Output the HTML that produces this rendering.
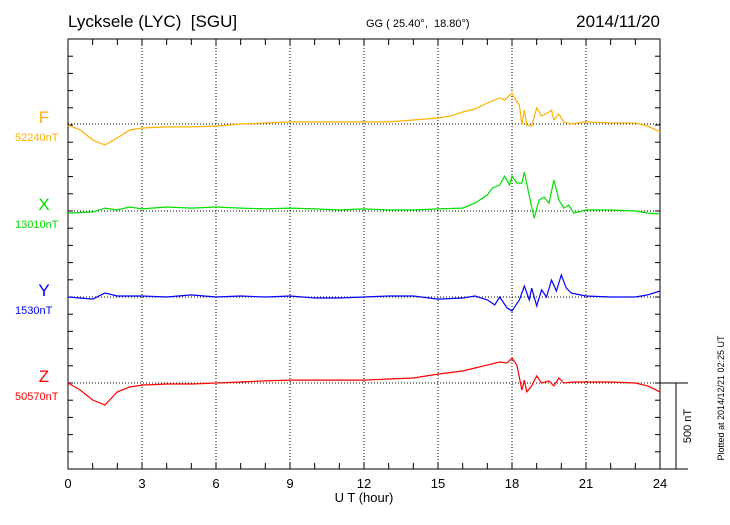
<!DOCTYPE html>
<html><head><meta charset="utf-8"><style>
body{margin:0;background:#fff}
svg text{font-family:"Liberation Sans",sans-serif;white-space:pre}
</style></head><body>
<svg id="c" width="730" height="520" xmlns="http://www.w3.org/2000/svg">
<text x="68" y="27" font-size="17">Lycksele (LYC)  [SGU]</text>
<text x="366" y="27" font-size="11">GG ( 25.40°,  18.80°)</text>
<text x="660" y="27" font-size="17" text-anchor="end">2014/11/20</text>
<text x="364" y="502" font-size="13" text-anchor="middle">U T (hour)</text>
<text transform="translate(724,398) rotate(-90)" font-size="9" text-anchor="middle">Plotted at 2014/12/21 02:25 UT</text>
<text transform="translate(691,426) rotate(-90)" font-size="11" text-anchor="middle">500 nT</text>
</svg>
<script>
const hoursF=[0,0.5,1,1.5,2,2.5,3,4,5,6,7,8,9,10,11,12,13,14,15,15.5,16,16.5,17,17.5,17.7,18,18.1,18.3,18.4,18.5,18.6,18.8,19,19.2,19.5,19.6,19.7,19.9,20.1,20.4,21,22,23,23.5,24];
const valuesF=[-6,-35,-93,-122,-81,-35,-23,-17,-17,-12,0,6,12,12,12,12,12,23,35,46,70,87,122,151,139,180,151,110,-6,81,-6,-12,93,46,70,81,23,58,12,0,12,6,6,-12,-46];
const hoursX=[0,1,1.5,2,2.5,3,4,5,6,7,8,9,10,11,12,13,14,15,16,16.5,17,17.2,17.5,17.7,17.9,18,18.2,18.4,18.5,18.7,18.9,19.1,19.3,19.5,19.7,19.9,20.1,20.3,20.5,21,22,23,23.5,24];
const valuesX=[-12,-6,17,6,23,12,23,17,23,17,12,17,12,6,12,6,6,12,17,46,93,133,151,203,151,203,162,162,226,87,-41,64,81,46,180,64,17,35,-12,6,6,0,-12,-17];
const hoursY=[0,1,1.5,2,3,4,5,6,7,8,9,10,11,12,13,14,15,16,16.5,17,17.3,17.5,17.8,18,18.3,18.5,18.7,18.8,19,19.2,19.4,19.6,19.8,20,20.2,20.4,20.6,21,22,23,23.5,24];
const valuesY=[0,-12,23,6,6,0,12,0,6,0,6,-6,-6,0,6,6,-12,-6,6,-17,-46,0,-64,-81,-17,64,-17,52,-52,41,0,99,35,128,52,23,17,6,0,0,12,35];
const hoursZ=[0,0.5,1,1.5,2,2.5,3,4,5,6,7,8,9,10,11,12,13,14,15,16,16.5,17,17.5,17.8,18,18.2,18.4,18.5,18.6,18.8,19,19.2,19.5,19.7,19.9,20.1,20.5,21,22,23,23.5,24];
const valuesZ=[0,-41,-99,-128,-52,-23,-12,-6,-6,0,6,12,17,17,17,17,23,29,52,70,87,104,122,116,145,104,-41,17,-52,-17,41,0,12,-17,29,0,6,6,6,0,-17,-52];
const comps=["F","X","Y","Z"];
const baseLabels=["52240nT","13010nT","1530nT","50570nT"];
const colors=["#ffb000","#00e000","#0000ff","#ff0000"];
const xTicks=[0,3,6,9,12,15,18,21,24];
const L=68,R=660,T=39,B=469,bases=[124,211,297,383],pxPerNT=86/500;
const xs=h=>L+h*(R-L)/24;
const ys=(i,v)=>bases[i]-v*pxPerNT;
const svg=document.getElementById('c');const NS='http://www.w3.org/2000/svg';
function mk(t,a,p){const e=document.createElementNS(NS,t);for(const k in a)e.setAttribute(k,a[k]);(p||svg).appendChild(e);return e;}
const frame=mk('rect',{x:L,y:T,width:R-L,height:B-T,fill:'none',stroke:'#000','stroke-width':1});


for(let h=0;h<=24;h++){
 const t1=mk('line',{x1:xs(h),x2:xs(h),y1:T,y2:T+6,stroke:'#000'});
 
 
 const t2=mk('line',{x1:xs(h),x2:xs(h),y1:B,y2:B-6,stroke:'#000'});
 
 
}
for(let y=B;y>=T;y-=100*pxPerNT){
 const a=mk('line',{x1:L,x2:L+5,y1:y,y2:y,stroke:'#000'});
 
 
 const b=mk('line',{x1:R,x2:R-5,y1:y,y2:y,stroke:'#000'});
 
 
}
xTicks.forEach(h=>{
 if(h>0&&h<24){const g=mk('line',{x1:xs(h),x2:xs(h),y1:T,y2:B,stroke:'#000','stroke-dasharray':'1,2'});
 
 }
 const tx=mk('text',{x:xs(h),y:488,'font-size':13,'text-anchor':'middle'});tx.textContent=h;
 
 
});
const hrs=[hoursF,hoursX,hoursY,hoursZ],vals=[valuesF,valuesX,valuesY,valuesZ];
comps.forEach((c,i)=>{
 const bl=mk('line',{x1:L,x2:R,y1:bases[i],y2:bases[i],stroke:'#000','stroke-dasharray':'1,2'});
 
 
 const pts=hrs[i].map((h,k)=>xs(h).toFixed(1)+','+ys(i,vals[i][k]).toFixed(1)).join(' ');
 const pl=mk('polyline',{points:pts,fill:'none',stroke:colors[i],'stroke-width':1.2});
 
 
 const lt=mk('text',{x:44,y:bases[i]-1,'font-size':17,fill:colors[i],'text-anchor':'middle'});lt.textContent=c;
 
 
 const bt=mk('text',{x:15,y:bases[i]+17,'font-size':11,fill:colors[i]});bt.textContent=baseLabels[i];
 
 
});
[[R,688,383,383],[R,688,469,469],[676,676,383,469]].forEach(p=>{
 const s=mk('line',{x1:p[0],x2:p[1],y1:p[2],y2:p[3],stroke:'#000'});
 
 
});
</script>
</body></html>
